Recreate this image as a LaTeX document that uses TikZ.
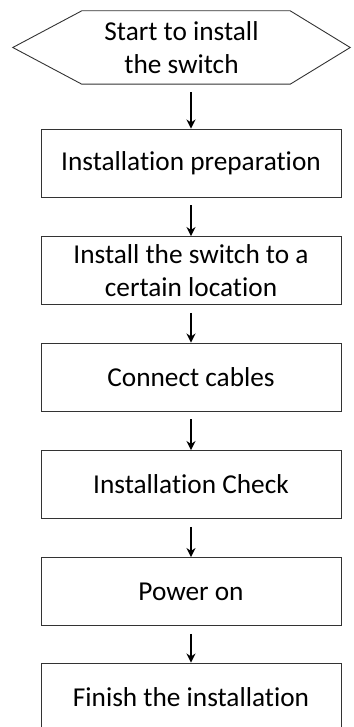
\documentclass[tikz,border=0pt]{standalone}
\usepackage{fontspec}
\setmainfont{Carlito}[Ligatures=NoCommon]
\usepackage{tikz}
\usetikzlibrary{positioning}
\usetikzlibrary{arrows.meta,calc}
\tikzstyle{stepbox}=[rectangle,draw=black!80,line width=0.9pt,minimum width=300pt,minimum height=68pt,inner sep=0pt,align=center,font=\fontsize{27.3}{33}\selectfont]
\tikzstyle{startbox}=[rectangle,minimum width=337pt,minimum height=73pt,inner sep=0pt,align=center,font=\fontsize{27.3}{33}\selectfont]
\tikzstyle{edge} = [draw,line width=1.5pt,-{Stealth[length=9pt,width=9pt]},shorten <=8pt]

\begin{document}
\begin{tikzpicture}[x=1pt,y=-1pt]
\useasboundingbox (0,0) rectangle (353,727);
\clip (0,0) rectangle (353,727);

% start of the flow
    \node[startbox] (start) at (181.5, 47.5) {Start to install\\the switch};
    \draw[draw=black!80,line width=0.9pt] (start.west) -- ([xshift=69pt]start.north west) -- ([xshift=-60pt]start.north east)
        -- (start.east) -- ([xshift=-60pt]start.south east) -- ([xshift=69pt]start.south west) -- cycle;

    % the steps
    \foreach \pos/\name/\label in {{(191,163)/prep/Installation preparation}, {(191,270.5)/mount/Install the switch to a\\certain location},
        {(191,377)/cable/Connect cables}, {(191,484.5)/check/Installation Check}, {(191,591.5)/power/Power on}, {(191,697)/finish/Finish the installation}}
        \node[stepbox] (\name) at \pos {\label};

    % Connect steps with arrows
    \path[edge] (start.south -| prep.north) -- (prep.north);
    \foreach \source/ \dest in {prep/mount, mount/cable, cable/check, check/power, power/finish}
          \path[edge] (\source) -- (\dest);

\end{tikzpicture}
\end{document}
